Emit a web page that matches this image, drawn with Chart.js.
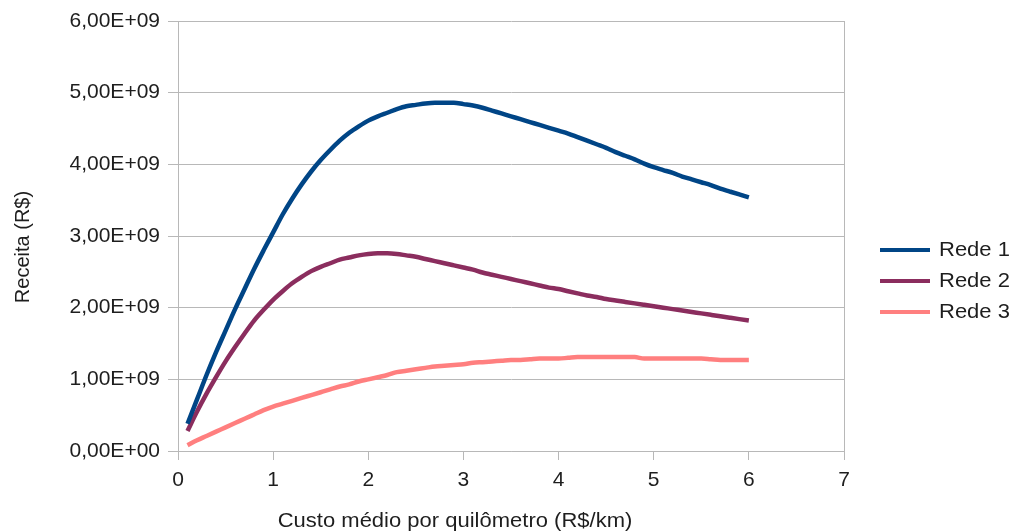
<!DOCTYPE html>
<html>
<head>
<meta charset="utf-8">
<script src="https://cdn.jsdelivr.net/npm/chart.js@4.4.1/dist/chart.umd.min.js"></script>
<style>
  html, body { margin: 0; padding: 0; background: #fff; }
  #wrap { width: 1016px; height: 531px; }
</style>
</head>
<body>
<div id="wrap"><canvas id="revChart" width="1016" height="531"></canvas></div>
<script>
// custo medio por km (R$/km)
var custo = [0.1, 0.2, 0.3, 0.4, 0.5, 0.6, 0.7, 0.8, 0.9, 1.0,
  1.1, 1.2, 1.3, 1.4, 1.5, 1.6, 1.7, 1.8, 1.9, 2.0,
  2.1, 2.2, 2.3, 2.4, 2.5, 2.6, 2.7, 2.8, 2.9, 3.0,
  3.1, 3.2, 3.3, 3.4, 3.5, 3.6, 3.7, 3.8, 3.9, 4.0,
  4.1, 4.2, 4.3, 4.4, 4.5, 4.6, 4.7, 4.8, 4.9, 5.0,
  5.1, 5.2, 5.3, 5.4, 5.5, 5.6, 5.7, 5.8, 5.9, 6.0];

// receita em bilhoes de R$ (E+09)
var rede1 = [0.38, 0.72, 1.06, 1.38, 1.68, 1.98, 2.26, 2.54, 2.80, 3.05,
  3.30, 3.52, 3.72, 3.90, 4.06, 4.20, 4.33, 4.44, 4.53, 4.61,
  4.67, 4.72, 4.77, 4.81, 4.83, 4.85, 4.86, 4.86, 4.86, 4.84,
  4.82, 4.79, 4.75, 4.71, 4.67, 4.63, 4.59, 4.55, 4.51, 4.47,
  4.43, 4.38, 4.33, 4.28, 4.23, 4.17, 4.12, 4.07, 4.01, 3.96,
  3.92, 3.88, 3.83, 3.79, 3.75, 3.71, 3.66, 3.62, 3.58, 3.54];

var rede2 = [0.28, 0.55, 0.80, 1.03, 1.25, 1.45, 1.64, 1.82, 1.97, 2.11,
  2.23, 2.34, 2.43, 2.51, 2.57, 2.62, 2.67, 2.70, 2.73, 2.75,
  2.76, 2.76, 2.75, 2.73, 2.71, 2.68, 2.65, 2.62, 2.59, 2.56,
  2.53, 2.49, 2.46, 2.43, 2.40, 2.37, 2.34, 2.31, 2.28, 2.26,
  2.23, 2.20, 2.17, 2.15, 2.12, 2.10, 2.08, 2.06, 2.04, 2.02,
  2.00, 1.98, 1.96, 1.94, 1.92, 1.90, 1.88, 1.86, 1.84, 1.82];

var rede3 = [0.08, 0.15, 0.21, 0.27, 0.33, 0.39, 0.45, 0.51, 0.57, 0.62,
  0.66, 0.70, 0.74, 0.78, 0.82, 0.86, 0.90, 0.93, 0.97, 1.00,
  1.03, 1.06, 1.10, 1.12, 1.14, 1.16, 1.18, 1.19, 1.20, 1.21,
  1.23, 1.24, 1.25, 1.26, 1.27, 1.27, 1.28, 1.29, 1.29, 1.29,
  1.30, 1.31, 1.31, 1.31, 1.31, 1.31, 1.31, 1.31, 1.29, 1.29,
  1.29, 1.29, 1.29, 1.29, 1.29, 1.28, 1.27, 1.27, 1.27, 1.27];

var seriesNames = ['Rede 1', 'Rede 2', 'Rede 3'];
var seriesColors = ['#004586', '#8b2d5e', '#ff7f7f'];
var xTitle = 'Custo médio por quilômetro (R$/km)';
var yTitle = 'Receita (R$)';

var gridColor = '#b8b8b8';
var textColor = '#1e1e1e';
var fontFam = '"Liberation Sans", Arial, sans-serif';

function points(ys) {
  return custo.map(function (c, i) { return { x: c, y: ys[i] * 1e9 }; });
}

function sciLabel(v) {
  if (v === 0) return '0,00E+00';
  return (v / 1e9).toFixed(2).replace('.', ',') + 'E+09';
}

// titulos, legenda e borda direita desenhados a mao
var extras = {
  id: 'extras',
  afterDraw: function (chart) {
    var ctx = chart.ctx;
    var area = chart.chartArea;
    ctx.save();
    // borda direita
    ctx.strokeStyle = gridColor;
    ctx.lineWidth = 1;
    ctx.beginPath();
    ctx.moveTo(Math.round(area.right) + 0.5, area.top);
    ctx.lineTo(Math.round(area.right) + 0.5, area.bottom);
    ctx.stroke();

    ctx.fillStyle = textColor;
    ctx.font = '20px ' + fontFam;
    ctx.textBaseline = 'middle';
    ctx.textAlign = 'center';
    // eixo x
    ctx.save();
    ctx.translate(455, 521);
    ctx.scale(1.1, 1);
    ctx.fillText(xTitle, 0, 0);
    ctx.restore();
    // eixo y
    ctx.save();
    ctx.translate(23, 247);
    ctx.rotate(-Math.PI / 2);
    ctx.fillText(yTitle, 0, 0);
    ctx.restore();

    // legenda
    ctx.textAlign = 'left';
    chart.data.datasets.forEach(function (ds, i) {
      var y = 250 + i * 31;
      ctx.strokeStyle = ds.borderColor;
      ctx.lineWidth = 4;
      ctx.beginPath();
      ctx.moveTo(880, y);
      ctx.lineTo(930, y);
      ctx.stroke();
      ctx.save();
      ctx.translate(939, y);
      ctx.scale(1.1, 1);
      ctx.fillText(ds.label, 0, 0);
      ctx.restore();
    });
    ctx.restore();
  }
};

var ctx = document.getElementById('revChart').getContext('2d');
var revChart = new Chart(ctx, {
  type: 'line',
  data: {
    datasets: [0, 1, 2].map(function (i) {
      return {
        label: seriesNames[i],
        data: points([rede1, rede2, rede3][i]),
        borderColor: seriesColors[i],
        backgroundColor: seriesColors[i],
        borderWidth: 4.5,
        pointRadius: 0,
        cubicInterpolationMode: 'monotone',
        fill: false
      };
    })
  },
  options: {
    responsive: false,
    animation: false,
    layout: { padding: { top: 21, right: 172, left: 0, bottom: 0 } },
    plugins: {
      legend: { display: false },
      tooltip: { enabled: false }
    },
    scales: {
      x: {
        type: 'linear',
        min: 0,
        max: 7,
        ticks: {
          stepSize: 1,
          color: textColor,
          font: { family: fontFam, size: 21 },
          padding: 8
        },
        grid: {
          drawOnChartArea: false,
          drawTicks: true,
          tickLength: 9,
          color: gridColor
        },
        border: { display: true, color: gridColor },
        afterFit: function (scale) { scale.height = 80; }
      },
      y: {
        min: 0,
        max: 6e9,
        ticks: {
          stepSize: 1e9,
          color: textColor,
          font: { family: fontFam, size: 21 },
          padding: 8,
          callback: function (v) { return sciLabel(v); }
        },
        grid: {
          color: gridColor,
          drawTicks: true,
          tickLength: 10
        },
        border: { display: true, color: gridColor },
        afterFit: function (scale) { scale.width = 178; }
      }
    }
  },
  plugins: [extras]
});
</script>
</body>
</html>
